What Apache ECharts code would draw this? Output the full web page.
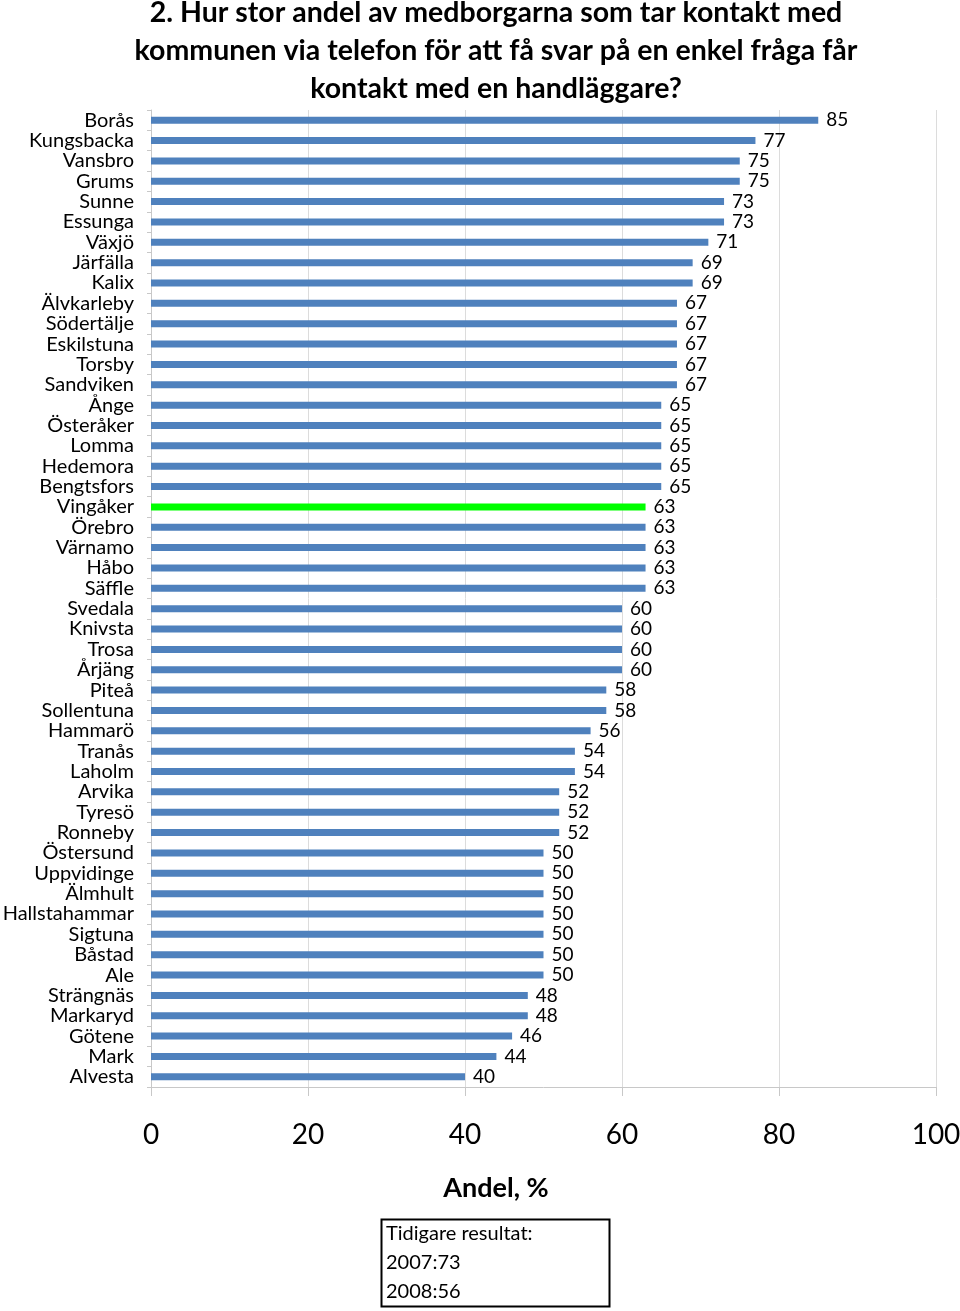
<!DOCTYPE html>
<html>
<head>
<meta charset="utf-8">
<script src="https://cdn.jsdelivr.net/npm/echarts@6/dist/echarts.min.js"></script>
<style>
  html, body { margin: 0; padding: 0; background: #fff; }
  #chart { width: 960px; height: 1311px; }
</style>
</head>
<body>
<div id="chart"></div>
<script>
const titleLines = [
  "2. Hur stor andel av medborgarna som tar kontakt med",
  "kommunen via telefon för att få svar på en enkel fråga får",
  "kontakt med en handläggare?"
];
const municipalities = [
  "Borås", "Kungsbacka", "Vansbro", "Grums", "Sunne", "Essunga", "Växjö", "Järfälla",
  "Kalix", "Älvkarleby", "Södertälje", "Eskilstuna", "Torsby", "Sandviken", "Ånge",
  "Österåker", "Lomma", "Hedemora", "Bengtsfors", "Vingåker", "Örebro", "Värnamo",
  "Håbo", "Säffle", "Svedala", "Knivsta", "Trosa", "Årjäng", "Piteå", "Sollentuna",
  "Hammarö", "Tranås", "Laholm", "Arvika", "Tyresö", "Ronneby", "Östersund",
  "Uppvidinge", "Älmhult", "Hallstahammar", "Sigtuna", "Båstad", "Ale", "Strängnäs",
  "Markaryd", "Götene", "Mark", "Alvesta"
];
const shares = [
  85, 77, 75, 75, 73, 73, 71, 69,
  69, 67, 67, 67, 67, 67, 65,
  65, 65, 65, 65, 63, 63, 63,
  63, 63, 60, 60, 60, 60, 58, 58,
  56, 54, 54, 52, 52, 52, 50,
  50, 50, 50, 50, 50, 50, 48,
  48, 46, 44, 40
];
const highlighted = "Vingåker";
const xTicks = [0, 20, 40, 60, 80, 100];
const axisName = "Andel, %";
const earlierResults = ["Tidigare resultat:", "2007:73", "2008:56"];

const font = "Lato, 'Open Sans', sans-serif";
const chart = echarts.init(document.getElementById("chart"));

chart.setOption({
  backgroundColor: "#fff",
  animation: false,
  grid: {
    left: 151, right: 24, top: 110, bottom: 224,
    containLabel: false,
    outerBoundsMode: "none"
  },
  xAxis: {
    type: "value",
    min: xTicks[0],
    max: xTicks[xTicks.length - 1],
    interval: 20,
    axisLine: { show: true, lineStyle: { color: "#c8c8c8", width: 1 } },
    axisTick: { show: true, length: 9, lineStyle: { color: "#c8c8c8" } },
    splitLine: { show: true, lineStyle: { color: "#dcdcdc", width: 1 } },
    axisLabel: { fontFamily: font, fontSize: 28, color: "#000", margin: 34 }
  },
  yAxis: {
    type: "category",
    inverse: true,
    data: municipalities,
    axisLine: { show: true, lineStyle: { color: "#c8c8c8" } },
    axisTick: { show: true, length: 4, lineStyle: { color: "#c8c8c8" } },
    axisLabel: { interval: 0, fontFamily: font, fontSize: 20, color: "#000", margin: 17 }
  },
  series: [{
    type: "bar",
    barWidth: 7,
    data: shares.map((v, i) => ({
      value: v,
      itemStyle: { color: municipalities[i] === highlighted ? "#00ff00" : "#4f81bd" }
    })),
    label: {
      show: true,
      position: "right",
      distance: 8,
      fontFamily: font,
      fontSize: 19,
      color: "#000"
    }
  }],
  graphic: [
    ...titleLines.map((t, i) => ({
      type: "text",
      x: 496,
      y: 13 + i * 38,
      style: {
        text: t,
        fontFamily: font,
        fontSize: 28.5,
        fontWeight: "bold",
        fill: "#000",
        align: "center",
        verticalAlign: "middle"
      }
    })),
    {
      type: "text",
      x: 496,
      y: 1188,
      style: {
        text: axisName,
        fontFamily: font,
        fontSize: 27,
        fontWeight: "bold",
        fill: "#000",
        align: "center",
        verticalAlign: "middle"
      }
    },
    {
      type: "rect",
      shape: { x: 381.5, y: 1219.5, width: 228, height: 87 },
      style: { fill: "#fff", stroke: "#000", lineWidth: 2 }
    },
    ...earlierResults.map((t, i) => ({
      type: "text",
      x: 386,
      y: 1234 + i * 29,
      style: {
        text: t,
        fontFamily: font,
        fontSize: 20,
        fill: "#000",
        align: "left",
        verticalAlign: "middle"
      }
    }))
  ]
});
</script>
</body>
</html>
